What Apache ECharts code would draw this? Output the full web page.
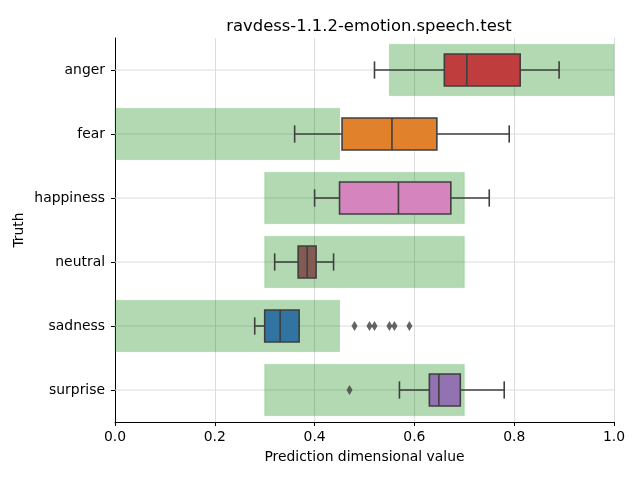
<!DOCTYPE html>
<html><head><meta charset="utf-8">
<script src="https://cdn.jsdelivr.net/npm/echarts@6/dist/echarts.min.js"></script>
<style>html,body{margin:0;padding:0;background:#fff}#c{width:640px;height:480px}</style>
</head><body><div id="c"></div>
<script>
const categories = ['anger', 'fear', 'happiness', 'neutral', 'sadness', 'surprise'];
const rangeLow  = [0.55, 0.0, 0.3, 0.3, 0.0, 0.3];
const rangeHigh = [1.0, 0.45, 0.7, 0.7, 0.45, 0.7];
const whiskerLow  = [0.52, 0.36, 0.40, 0.32, 0.28, 0.57];
const q1          = [0.66, 0.455, 0.45, 0.367, 0.30, 0.63];
const median      = [0.705, 0.555, 0.568, 0.385, 0.331, 0.649];
const q3          = [0.812, 0.645, 0.673, 0.403, 0.369, 0.692];
const whiskerHigh = [0.89, 0.79, 0.75, 0.438, 0.369, 0.78];
const outlierCategory = ['sadness', 'sadness', 'sadness', 'sadness', 'sadness', 'sadness', 'surprise'];
const outlierValue    = [0.48, 0.51, 0.52, 0.55, 0.56, 0.59, 0.47];
const boxColors = ['#c03d3e', '#e1812c', '#d684bd', '#845b53', '#3274a1', '#9372b2'];

const FONT = 'DejaVu Sans';
const LINE = '#3f3f3f';
const chart = echarts.init(document.getElementById('c'), null, {renderer: 'canvas'});

const rangeData = categories.map((c, i) => [i, rangeLow[i], rangeHigh[i]]);
const boxData = categories.map((c, i) => [i, whiskerLow[i], q1[i], median[i], q3[i], whiskerHigh[i]]);
const gridData = categories.map((c, i) => [i]);
const outlierData = outlierValue.map((v, k) => [v, outlierCategory[k]]);

chart.setOption({
  animation: false,
  backgroundColor: '#fff',
  title: {
    text: 'ravdess-1.1.2-emotion.speech.test',
    left: 364, top: 14, textAlign: 'center',
    textStyle: {fontFamily: FONT, fontSize: 16.4, fontWeight: 'normal', color: '#000'}
  },
  grid: {left: 115, right: 26, top: 38, bottom: 58},
  xAxis: {
    type: 'value', min: 0, max: 1, interval: 0.2,
    name: 'Prediction dimensional value', nameLocation: 'middle', nameGap: 28,
    nameMoveOverlap: false,
    nameTextStyle: {fontFamily: FONT, fontSize: 13.9, color: '#000'},
    axisLine: {show: true, lineStyle: {color: '#000', width: 1}},
    axisTick: {show: true, length: 4, lineStyle: {color: '#000'}},
    axisLabel: {fontFamily: FONT, fontSize: 13.9, color: '#000', margin: 8,
      formatter: v => v.toFixed(1)},
    splitLine: {show: true, lineStyle: {color: '#dcdcdc', width: 1}}
  },
  yAxis: {
    type: 'category', data: categories, inverse: true,
    name: 'Truth', nameLocation: 'middle', nameGap: 89, nameRotate: 90,
    nameMoveOverlap: false,
    nameTextStyle: {fontFamily: FONT, fontSize: 13.9, color: '#000'},
    axisLine: {show: true, lineStyle: {color: '#000', width: 1}},
    axisTick: {show: true, alignWithLabel: true, length: 4, lineStyle: {color: '#000'}},
    axisLabel: {fontFamily: FONT, fontSize: 13.9, color: '#000', margin: 10},
    splitLine: {show: false}
  },
  series: [
    {
      type: 'custom', name: 'ygrid', z: 1, silent: true,
      data: gridData, encode: {y: 0},
      renderItem: (params, api) => {
        const i = api.value(0);
        const a = api.coord([0, i]);
        const b = api.coord([1, i]);
        return {type: 'line', shape: {x1: a[0], y1: a[1], x2: b[0], y2: b[1]},
          style: {stroke: '#dcdcdc', lineWidth: 1}};
      }
    },
    {
      type: 'custom', name: 'range', z: 2, silent: true,
      data: rangeData, encode: {y: 0, x: [1, 2]},
      renderItem: (params, api) => {
        const i = api.value(0);
        const a = api.coord([api.value(1), i]);
        const b = api.coord([api.value(2), i]);
        const h = api.size([0, 1])[1];
        return {type: 'rect',
          shape: {x: a[0], y: a[1] - h * 0.4, width: b[0] - a[0], height: h * 0.8},
          style: {fill: 'rgba(0,128,0,0.3)', stroke: 'rgba(0,150,0,0.18)', lineWidth: 1}};
      }
    },
    {
      type: 'custom', name: 'box', z: 3, silent: true,
      data: boxData, encode: {y: 0, x: [1, 2, 3, 4, 5]},
      renderItem: (params, api) => {
        const i = api.value(0);
        const h = api.size([0, 1])[1];
        const bh = h * 0.5, ch = h * 0.27;
        const p = [1, 2, 3, 4, 5].map(d => api.coord([api.value(d), i]));
        const y = p[0][1];
        const st = {stroke: LINE, lineWidth: 1.6};
        const ln = (x1, y1, x2, y2) => ({type: 'line', shape: {x1, y1, x2, y2}, style: st});
        return {type: 'group', children: [
          ln(p[0][0], y, p[1][0], y),
          ln(p[3][0], y, p[4][0], y),
          ln(p[0][0], y - ch / 2, p[0][0], y + ch / 2),
          ln(p[4][0], y - ch / 2, p[4][0], y + ch / 2),
          {type: 'rect', shape: {x: p[1][0], y: y - bh / 2, width: p[3][0] - p[1][0], height: bh},
            style: {fill: boxColors[i], stroke: LINE, lineWidth: 1.6}},
          ln(p[2][0], y - bh / 2, p[2][0], y + bh / 2)
        ]};
      }
    },
    {
      type: 'scatter', name: 'outliers', z: 4, silent: true,
      data: outlierData, symbol: 'diamond', symbolSize: [6, 10],
      itemStyle: {color: LINE}
    }
  ]
});
</script>
</body></html>
